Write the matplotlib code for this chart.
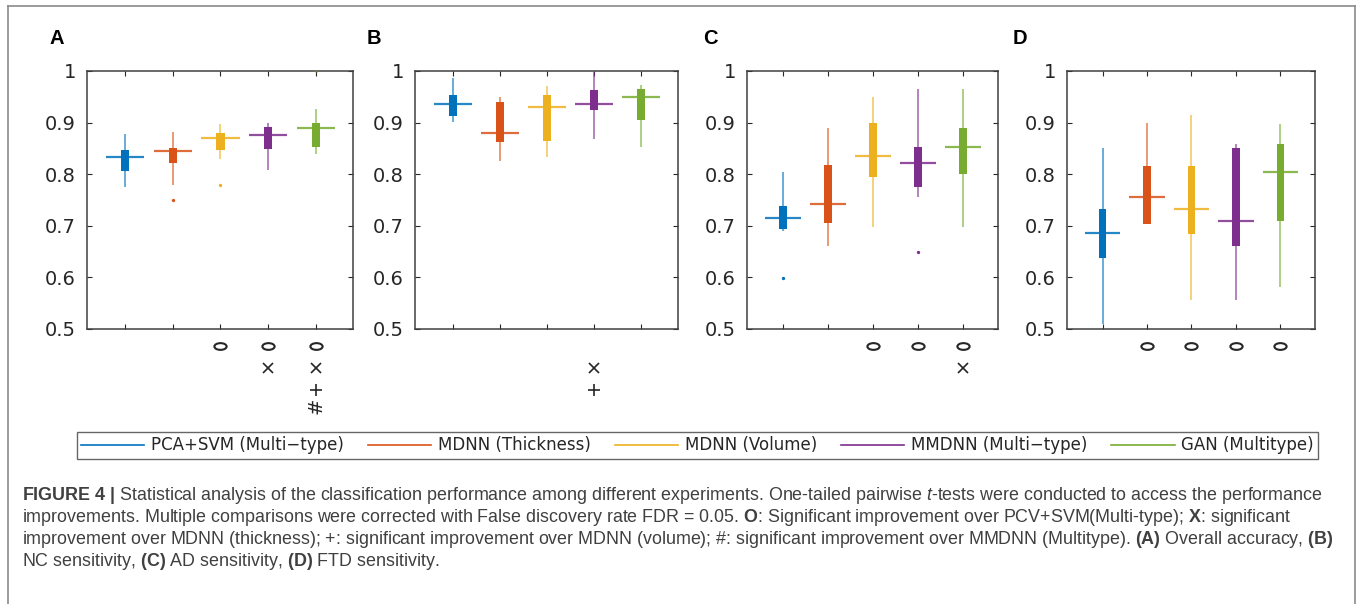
import numpy as np
import matplotlib
matplotlib.use('Agg')
import matplotlib.pyplot as plt
from matplotlib import font_manager
from matplotlib.lines import Line2D
from matplotlib.path import Path

W, H, DPI = 1357, 604, 100

COLORS = ['#0072BD', '#D95319', '#EDB120', '#7E2F8E', '#77AC30']
METHODS = ['PCA+SVM (Multi\u2212type)', 'MDNN (Thickness)', 'MDNN (Volume)',
           'MMDNN (Multi\u2212type)', 'GAN (Multitype)']

# (A) overall accuracy
acc_lo = [0.776, 0.779, 0.829, 0.808, 0.839]
acc_q1 = [0.807, 0.822, 0.846, 0.849, 0.853]
acc_med = [0.834, 0.844, 0.870, 0.876, 0.889]
acc_q3 = [0.847, 0.850, 0.880, 0.892, 0.899]
acc_hi = [0.877, 0.881, 0.898, 0.900, 0.926]
acc_out = [[], [0.750], [0.780], [], [1.0]]
acc_sig = ['', '', 'O', 'OX', 'OX+#']

# (B) NC sensitivity
nc_lo = [0.901, 0.826, 0.834, 0.868, 0.853]
nc_q1 = [0.913, 0.862, 0.864, 0.924, 0.905]
nc_med = [0.937, 0.880, 0.930, 0.936, 0.950]
nc_q3 = [0.953, 0.939, 0.953, 0.963, 0.966]
nc_hi = [0.987, 0.950, 0.971, 0.999, 0.972]
nc_out = [[], [], [], [], []]
nc_sig = ['', '', '', 'X+', '']

# (C) AD sensitivity
ad_lo = [0.690, 0.661, 0.698, 0.755, 0.698]
ad_q1 = [0.694, 0.706, 0.795, 0.776, 0.800]
ad_med = [0.716, 0.742, 0.836, 0.821, 0.853]
ad_q3 = [0.738, 0.818, 0.899, 0.853, 0.890]
ad_hi = [0.804, 0.890, 0.950, 0.966, 0.966]
ad_out = [[0.598], [], [], [0.649], []]
ad_sig = ['', '', 'O', 'O', 'OX']

# (D) FTD sensitivity
ftd_lo = [0.510, 0.703, 0.557, 0.557, 0.581]
ftd_q1 = [0.638, 0.703, 0.684, 0.660, 0.710]
ftd_med = [0.687, 0.756, 0.732, 0.710, 0.805]
ftd_q3 = [0.733, 0.815, 0.815, 0.850, 0.859]
ftd_hi = [0.850, 0.899, 0.914, 0.859, 0.897]
ftd_out = [[], [], [], [], []]
ftd_sig = ['', 'O', 'O', 'O', 'O']

YTICKS = [0.5, 0.6, 0.7, 0.8, 0.9, 1.0]
YTICKLABELS = ['0.5', '0.6', '0.7', '0.8', '0.9', '1']

# pixel layout of the four axes (left, right), shared top/bottom
AX_X = [(87, 353), (415, 678), (747, 998), (1067, 1315)]
AX_TOP, AX_BOT = 71, 329
LETTER_X = [50, 367, 703, 1013]
# rows of the significance symbols, pixels below the axes
SIG_OFF = {'O': 17, 'X': 39, '+': 61, '#': 77}

INK = '#262626'

names = {f.name for f in font_manager.fontManager.ttflist}
CAP_FONT = 'Liberation Sans Narrow' if 'Liberation Sans Narrow' in names else 'Liberation Sans'
plt.rcParams['font.family'] = ['DejaVu Sans']
plt.rcParams['mathtext.fontset'] = 'custom'
plt.rcParams['mathtext.rm'] = CAP_FONT
plt.rcParams['mathtext.it'] = CAP_FONT + ':italic'
plt.rcParams['mathtext.bf'] = CAP_FONT + ':bold'

circ = Path.unit_circle()
OVAL = Path(circ.vertices * np.array([1.0, 0.55]), circ.codes)


def draw_panel(ax, lo, q1, med, q3, hi, out, sig):
    x = np.arange(1, 6)
    for i in range(5):
        c = COLORS[i]
        ax.vlines(x[i], lo[i], hi[i], color=c, lw=1.1, alpha=0.75, zorder=2)
        ax.bar(x[i], q3[i] - q1[i], bottom=q1[i], width=0.17, color=c, zorder=3)
        ax.hlines(med[i], x[i] - 0.4, x[i] + 0.4, color=c, lw=1.6, alpha=0.85, zorder=4)
        for v in out[i]:
            # points sitting on the frame are drawn faint, as in the source
            a = 0.35 if v >= 1.0 else 1.0
            ax.plot(x[i], v, 'o', ms=2.4, color=c, mec='none', alpha=a,
                    clip_on=False, zorder=5)

    ax.set_xlim(0.2, 5.78)
    ax.set_ylim(0.5, 1.0)
    ax.set_xticks(x)
    ax.set_xticklabels([])
    ax.set_yticks(YTICKS)
    ax.set_yticklabels(YTICKLABELS)
    ax.tick_params(direction='in', top=True, right=True, length=3.5, width=0.8,
                   color=INK, labelsize=14, labelcolor=INK, pad=8)
    for sp in ax.spines.values():
        sp.set_color('#404040')
        sp.set_linewidth(1.1)

    # significance symbols below each box
    h = AX_BOT - AX_TOP
    trans = ax.get_xaxis_transform()
    for i, s in enumerate(sig):
        for ch in s:
            y = -SIG_OFF[ch] / h
            if ch == 'O':
                ax.plot(x[i], y, marker=OVAL, ms=8.8, mfc='none', mec=INK, mew=1.5,
                        transform=trans, clip_on=False)
            elif ch == 'X':
                ax.plot(x[i], y, marker='x', ms=7, mec=INK, mew=1.2,
                        transform=trans, clip_on=False)
            elif ch == '+':
                ax.plot(x[i], y, marker='+', ms=8.5, mec=INK, mew=1.2,
                        transform=trans, clip_on=False)
            else:
                ax.text(x[i], y, '#', rotation=90, ha='center', va='center',
                        fontsize=14, color=INK, transform=trans, clip_on=False)


fig = plt.figure(figsize=(W / DPI, H / DPI), dpi=DPI)

panels = [
    ('A', acc_lo, acc_q1, acc_med, acc_q3, acc_hi, acc_out, acc_sig),
    ('B', nc_lo, nc_q1, nc_med, nc_q3, nc_hi, nc_out, nc_sig),
    ('C', ad_lo, ad_q1, ad_med, ad_q3, ad_hi, ad_out, ad_sig),
    ('D', ftd_lo, ftd_q1, ftd_med, ftd_q3, ftd_hi, ftd_out, ftd_sig),
]
for k, (letter, *stats) in enumerate(panels):
    x0, x1 = AX_X[k]
    ax = fig.add_axes([x0 / W, 1 - AX_BOT / H, (x1 - x0) / W, (AX_BOT - AX_TOP) / H])
    draw_panel(ax, *stats)
    fig.text(LETTER_X[k] / W, 1 - 39 / H, letter, ha='left', va='center',
             fontsize=14.5, fontweight='bold', family='Liberation Sans', color='black')

# legend
handles = [Line2D([], [], color=c, lw=1.2) for c in COLORS]
leg = fig.legend(handles, METHODS, loc='center',
                 bbox_to_anchor=(77 / W, 1 - 458 / H, (1318 - 77) / W, 25 / H),
                 mode='expand', ncol=5, fancybox=False, edgecolor='#404040',
                 fontsize=12, handlelength=3.8, handletextpad=0.4,
                 borderpad=0.25, borderaxespad=0)
leg.get_frame().set_linewidth(1.0)
for t in leg.get_texts():
    t.set_color(INK)

# outer figure frame
for xs, ys in [([8, 8], [6, H]), ([8, 1355], [6, 6]), ([1355, 1355], [6, H])]:
    fig.add_artist(Line2D([v / W for v in xs], [1 - v / H for v in ys],
                          transform=fig.transFigure, color='#8a8a8a', lw=1.2))

# caption
CAPTION = [
    r'$\mathbf{FIGURE\ 4\ |}$ Statistical analysis of the classification performance among '
    r'different experiments. One-tailed pairwise $\mathit{t}$-tests were conducted to access the performance',
    r'improvements. Multiple comparisons were corrected with False discovery rate FDR = 0.05. '
    r'$\mathbf{O}$: Significant improvement over PCV+SVM(Multi-type); $\mathbf{X}$: significant',
    r'improvement over MDNN (thickness); $+$: significant improvement over MDNN (volume); '
    r'$\#$: significant improvement over MMDNN (Multitype). $\mathbf{(A)}$ Overall accuracy, $\mathbf{(B)}$',
    r'NC sensitivity, $\mathbf{(C)}$ AD sensitivity, $\mathbf{(D)}$ FTD sensitivity.',
]
CAP_Y = [496, 518, 540, 562]
caps = [fig.text(22 / W, 1 - y / H, line, ha='left', va='center', fontsize=12,
                 family=CAP_FONT, color='#404040')
        for line, y in zip(CAPTION, CAP_Y)]
renderer = fig.canvas.get_renderer()
w0 = max(t.get_window_extent(renderer).width for t in caps)
fs = 12 * (1333 - 22) / w0
for t in caps:
    t.set_fontsize(fs)

fig.savefig('out.png', dpi=DPI)
